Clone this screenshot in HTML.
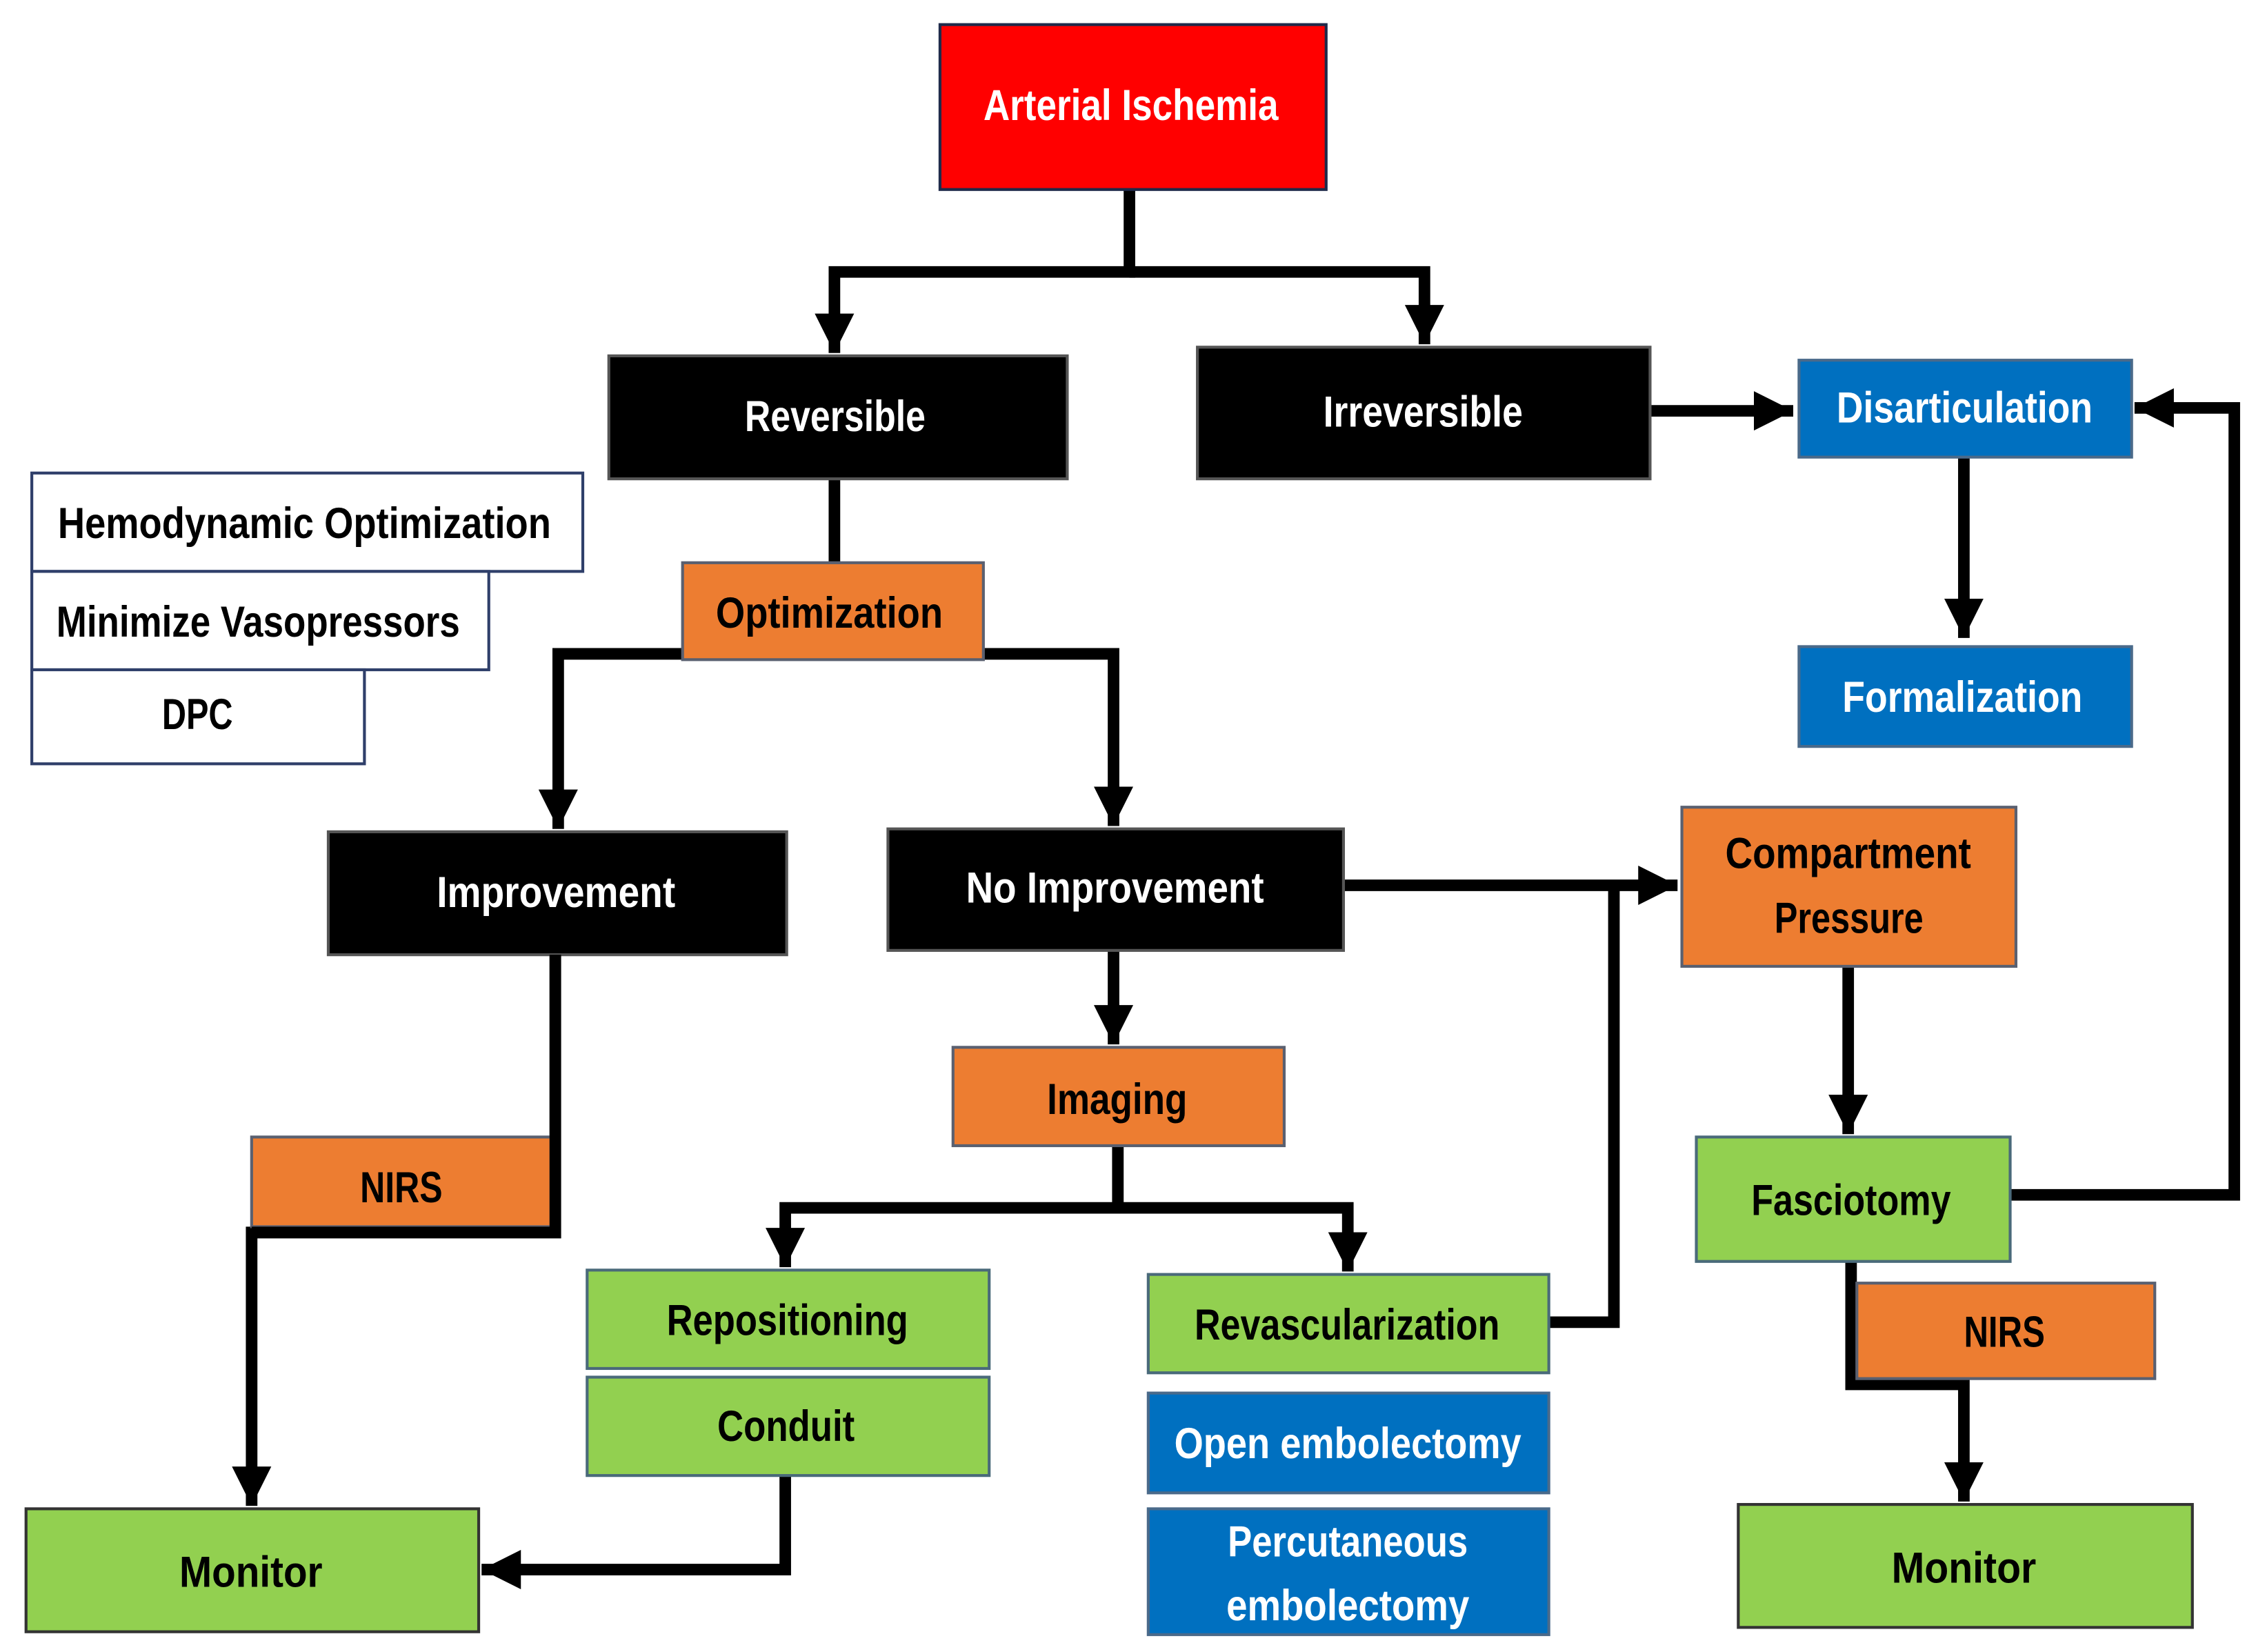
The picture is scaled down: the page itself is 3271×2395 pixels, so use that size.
<!DOCTYPE html>
<html><head><meta charset="utf-8"><style>
html,body{margin:0;padding:0;background:#fff;}
svg{display:block;}
text{font-family:"Liberation Sans",sans-serif;font-weight:bold;font-size:30px;dominant-baseline:central;}
</style></head><body>
<svg width="3271" height="2395" viewBox="0 0 1560 1142" preserveAspectRatio="none" xmlns="http://www.w3.org/2000/svg">
<defs>
<marker id="a" viewBox="0 0 10 10" refX="10" refY="5" markerWidth="3.4" markerHeight="3.4" orient="auto" markerUnits="strokeWidth">
<path d="M0,0 L10,5 L0,10 z" fill="#000"/></marker>
</defs>
<g fill="none" stroke="#000" stroke-width="8" stroke-linejoin="miter">
<path d="M781,131 V188 H577 V244" marker-end="url(#a)"/>
<path d="M781,188 H985 V238" marker-end="url(#a)"/>
<path d="M1141,284 H1240" marker-end="url(#a)"/>
<path d="M577,331 V389"/>
<path d="M472,452 H386 V573" marker-end="url(#a)"/>
<path d="M680,452 H770 V571" marker-end="url(#a)"/>
<path d="M384,660 V852 H174 V1041" marker-end="url(#a)"/>
<path d="M770,657 V722" marker-end="url(#a)"/>
<path d="M929,612 H1160" marker-end="url(#a)"/>
<path d="M773,792 V835 H543 V876" marker-end="url(#a)"/>
<path d="M773,835 H932 V879" marker-end="url(#a)"/>
<path d="M1071,914 H1116 V612"/>
<path d="M543,1020 V1085 H333" marker-end="url(#a)"/>
<path d="M1278,668 V784" marker-end="url(#a)"/>
<path d="M1390,826 H1545 V282 H1476" marker-end="url(#a)"/>
<path d="M1358,316 V441" marker-end="url(#a)"/>
<path d="M1280,872 V957 H1358 V1038" marker-end="url(#a)"/>
</g>
<g stroke-width="2">
<rect x="650" y="17" width="267" height="114" fill="#FF0000" stroke="#1f2a4a"/>
<rect x="421" y="246" width="317" height="85" fill="#000" stroke="#555"/>
<rect x="828" y="240" width="313" height="91" fill="#000" stroke="#555"/>
<rect x="1244" y="249" width="230" height="67" fill="#0070C0" stroke="#4a6a8a"/>
<rect x="1244" y="447" width="230" height="69" fill="#0070C0" stroke="#4a6a8a"/>
<rect x="22" y="327" width="381" height="68" fill="#fff" stroke="#2f3f6a"/>
<rect x="22" y="395" width="316" height="68" fill="#fff" stroke="#2f3f6a"/>
<rect x="22" y="463" width="230" height="65" fill="#fff" stroke="#2f3f6a"/>
<rect x="472" y="389" width="208" height="67" fill="#ED7D31" stroke="#5a6070"/>
<rect x="227" y="575" width="317" height="85" fill="#000" stroke="#555"/>
<rect x="614" y="573" width="315" height="84" fill="#000" stroke="#555"/>
<rect x="1163" y="558" width="231" height="110" fill="#ED7D31" stroke="#5a6070"/>
<rect x="659" y="724" width="229" height="68" fill="#ED7D31" stroke="#5a6070"/>
<rect x="1173" y="786" width="217" height="86" fill="#92D050" stroke="#4a6a7a"/>
<rect x="174" y="786" width="207" height="62" fill="#ED7D31" stroke="#5a6070"/>
<rect x="1284" y="887" width="206" height="66" fill="#ED7D31" stroke="#5a6070"/>
<rect x="406" y="878" width="278" height="68" fill="#92D050" stroke="#4a6a7a"/>
<rect x="406" y="952" width="278" height="68" fill="#92D050" stroke="#4a6a7a"/>
<rect x="794" y="881" width="277" height="68" fill="#92D050" stroke="#4a6a7a"/>
<rect x="794" y="963" width="277" height="69" fill="#0070C0" stroke="#4a6a8a"/>
<rect x="794" y="1043" width="277" height="87" fill="#0070C0" stroke="#4a6a8a"/>
<rect x="18" y="1043" width="313" height="85" fill="#92D050" stroke="#333"/>
<rect x="1202" y="1040" width="314" height="85" fill="#92D050" stroke="#333"/>
</g>
<path d="M384,660 V852 H174" fill="none" stroke="#000" stroke-width="8"/>
<g fill="#fff">
<text x="680" y="73" textLength="204" lengthAdjust="spacingAndGlyphs">Arterial Ischemia</text>
<text x="515" y="288" textLength="125" lengthAdjust="spacingAndGlyphs">Reversible</text>
<text x="915" y="285" textLength="138" lengthAdjust="spacingAndGlyphs">Irreversible</text>
<text x="1270" y="282" textLength="177" lengthAdjust="spacingAndGlyphs">Disarticulation</text>
<text x="1274" y="482" textLength="166" lengthAdjust="spacingAndGlyphs">Formalization</text>
<text x="302" y="617" textLength="165" lengthAdjust="spacingAndGlyphs">Improvement</text>
<text x="668" y="614" textLength="206" lengthAdjust="spacingAndGlyphs">No Improvement</text>
<text x="812" y="998" textLength="240" lengthAdjust="spacingAndGlyphs">Open embolectomy</text>
<text x="849" y="1066" textLength="166" lengthAdjust="spacingAndGlyphs">Percutaneous</text>
<text x="848" y="1110" textLength="168" lengthAdjust="spacingAndGlyphs">embolectomy</text>
</g>
<g fill="#000">
<text x="40" y="362" textLength="341" lengthAdjust="spacingAndGlyphs">Hemodynamic Optimization</text>
<text x="39" y="430" textLength="279" lengthAdjust="spacingAndGlyphs">Minimize Vasopressors</text>
<text x="112" y="494" textLength="49" lengthAdjust="spacingAndGlyphs">DPC</text>
<text x="495" y="424" textLength="157" lengthAdjust="spacingAndGlyphs">Optimization</text>
<text x="1193" y="590" textLength="170" lengthAdjust="spacingAndGlyphs">Compartment</text>
<text x="1227" y="635" textLength="103" lengthAdjust="spacingAndGlyphs">Pressure</text>
<text x="724" y="760" textLength="97" lengthAdjust="spacingAndGlyphs">Imaging</text>
<text x="1211" y="830" textLength="138" lengthAdjust="spacingAndGlyphs">Fasciotomy</text>
<text x="249" y="821" textLength="57" lengthAdjust="spacingAndGlyphs">NIRS</text>
<text x="1358" y="921" textLength="56" lengthAdjust="spacingAndGlyphs">NIRS</text>
<text x="461" y="913" textLength="167" lengthAdjust="spacingAndGlyphs">Repositioning</text>
<text x="496" y="986" textLength="95" lengthAdjust="spacingAndGlyphs">Conduit</text>
<text x="826" y="916" textLength="211" lengthAdjust="spacingAndGlyphs">Revascularization</text>
<text x="124" y="1087" textLength="99" lengthAdjust="spacingAndGlyphs">Monitor</text>
<text x="1308" y="1084" textLength="100" lengthAdjust="spacingAndGlyphs">Monitor</text>
</g>
</svg>
</body></html>
